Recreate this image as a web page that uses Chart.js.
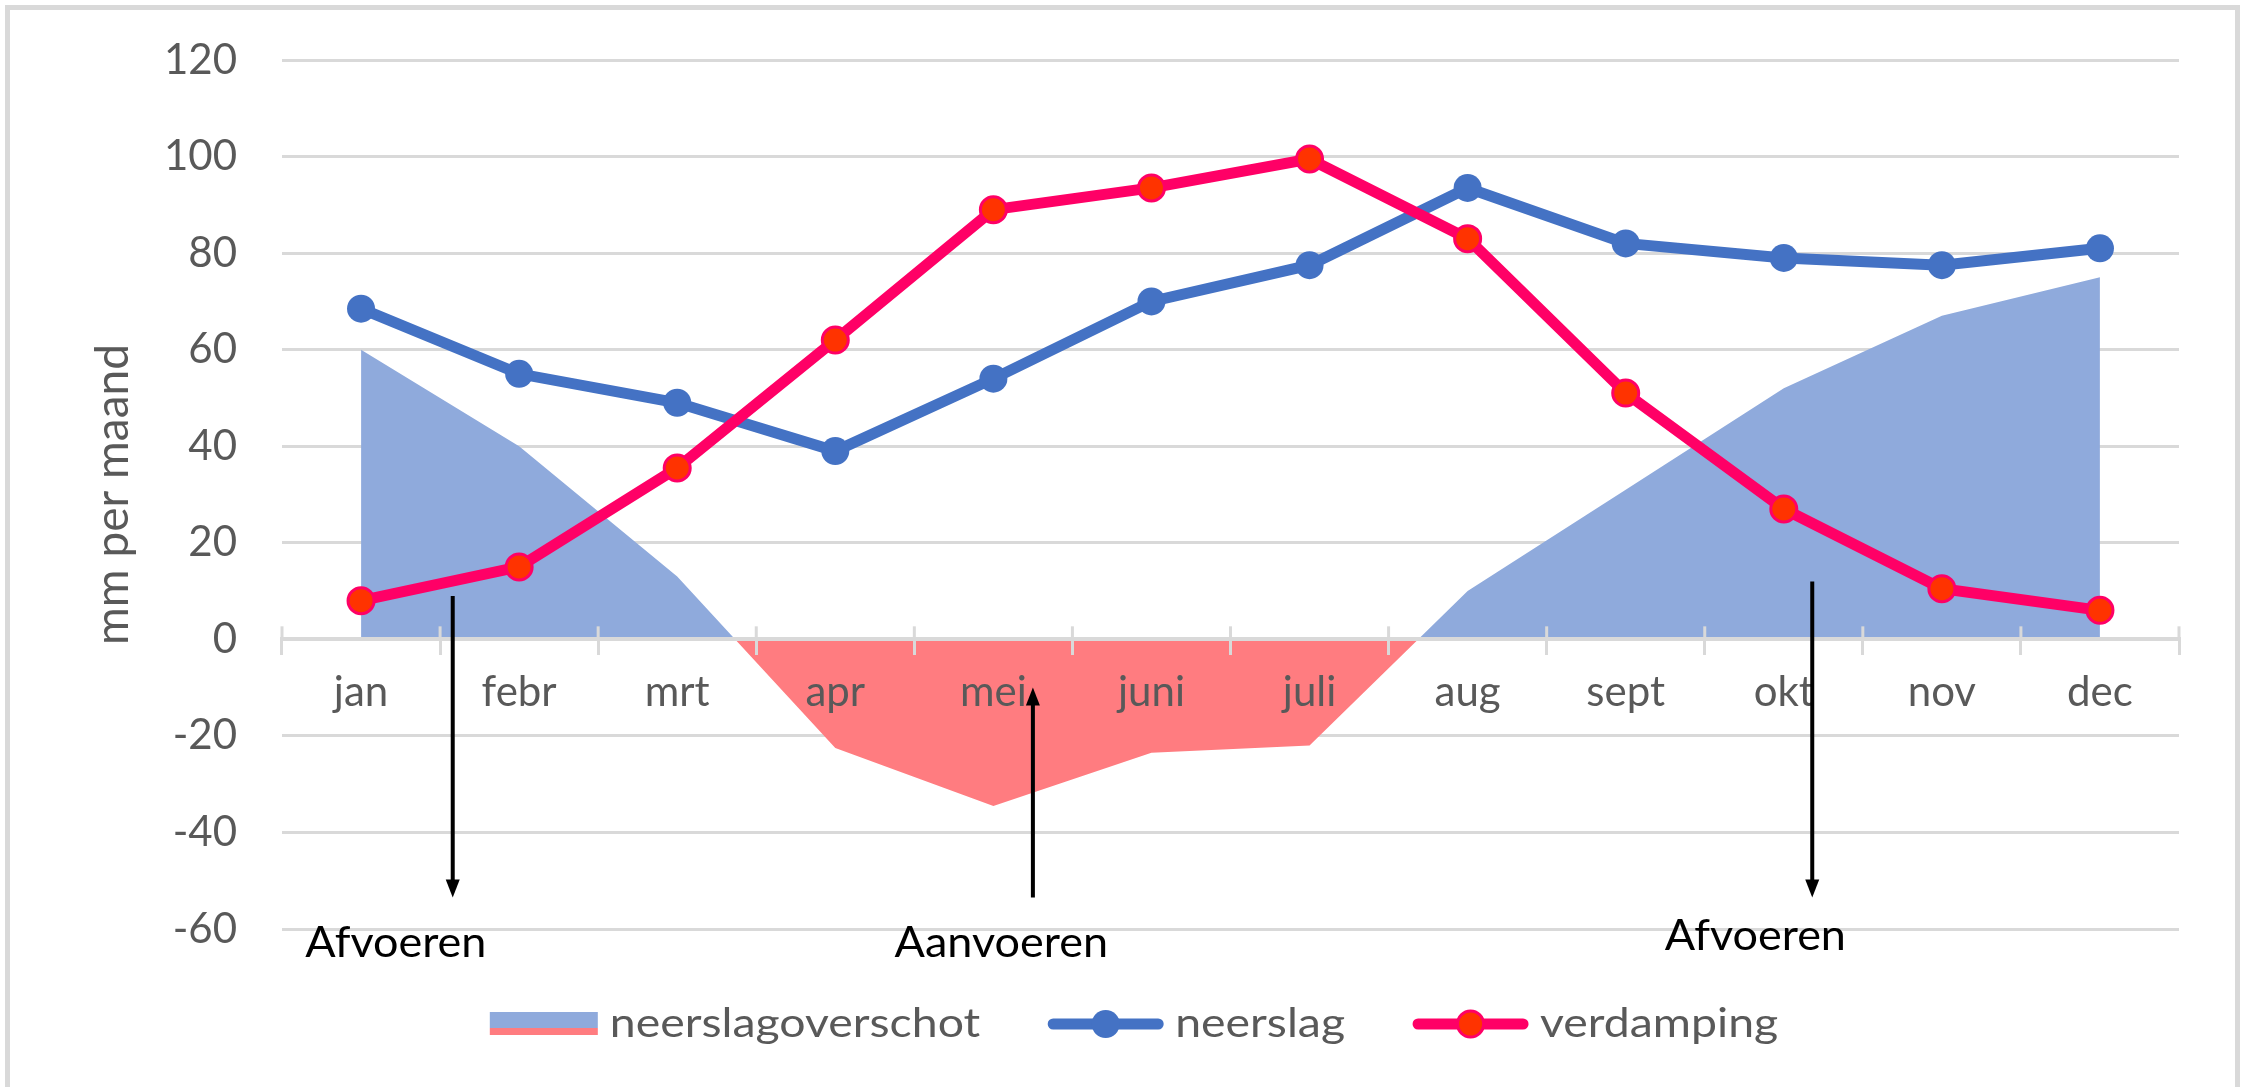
<!DOCTYPE html>
<html lang="nl">
<head>
<meta charset="UTF-8">
<title>Neerslag en verdamping per maand</title>
<script src="https://cdn.jsdelivr.net/npm/chart.js"></script>
<style>
  html, body { margin: 0; padding: 0; background: #fff; }
  #wrap { position: relative; width: 2248px; height: 1087px; overflow: hidden; }
  #frame { position: absolute; left: 5px; top: 5px; width: 2225px; height: 1100px;
           border: 5px solid #d9d9d9; border-bottom: none; }
  #chart { position: absolute; left: 0; top: 0; }
</style>
</head>
<body>
<div id="wrap">
  <div id="frame"></div>
  <canvas id="chart" width="2248" height="1087"></canvas>
</div>

<script>
// months on the x axis
const months = ["jan", "febr", "mrt", "apr", "mei", "juni", "juli", "aug", "sept", "okt", "nov", "dec"];

// mm per maand
const neerslag = [68.5, 55, 49, 39, 54, 70, 77.5, 93.5, 82, 79, 77.5, 81];
const verdamping = [8, 15, 35.5, 62, 89, 93.5, 99.5, 83, 51, 27, 10.5, 6];
const neerslagoverschot = [60, 40, 13, -22.5, -34.5, -23.5, -22, 10, 31, 52, 67, 75];

// y axis
const yMin = -60;
const yMax = 120;
const yStep = 20;

// arrows + notes underneath the chart (x = month index, y = mm)
const arrowX = [0.58, 4.25, 9.18];
const arrowFrom = [9, -53.5, 12];
const arrowTo = [-53.5, -10, -53.5];
const noteText = ["Afvoeren", "Aanvoeren", "Afvoeren"];
const noteX = [0.22, 4.05, 8.82];
const noteY = [-63, -63, -61.5];

const FONT = "Lato";
const GREY_TEXT = "#595959";
const GRID = "#d9d9d9";
const BLUE_AREA = "#8faadc";
const RED_AREA = "#ff7c80";
const BLUE = "#4472c4";
const PINK = "#ff0066";
const ORANGE = "#ff3300";

// the picture is a bit stretched sideways, so text drawn here is widened too
function wideText(ctx, text, x, y, stretch, align) {
    const w = ctx.measureText(text).width * stretch;
    let left = x;
    if (align === "center") left = x - w / 2;
    ctx.save();
    ctx.translate(left, y);
    ctx.scale(stretch, 1);
    ctx.textAlign = "left";
    ctx.fillText(text, 0, 0);
    ctx.restore();
    return w;
}

// arrows and the three notes, plus the short tick stubs above the zero axis
const notesPlugin = {
    id: "notes",
    afterDraw(chart) {
        const ctx = chart.ctx;
        const xs = chart.scales.x, ys = chart.scales.y;
        ctx.save();

        const y0 = ys.getPixelForValue(0);
        ctx.strokeStyle = GRID;
        ctx.lineWidth = 3;
        for (let i = 0; i <= months.length; i++) {
            const x = xs.getPixelForValue(i - 0.5);
            ctx.beginPath();
            ctx.moveTo(x, y0 - 13);
            ctx.lineTo(x, y0);
            ctx.stroke();
        }

        ctx.strokeStyle = "#000";
        ctx.fillStyle = "#000";
        ctx.lineWidth = 4;
        arrowX.forEach((ax, i) => {
            const x = xs.getPixelForValue(ax);
            const y1 = ys.getPixelForValue(arrowFrom[i]);
            const y2 = ys.getPixelForValue(arrowTo[i]);
            const dir = y2 > y1 ? 1 : -1;
            ctx.beginPath();
            ctx.moveTo(x, y1);
            ctx.lineTo(x, y2 - dir * 14);
            ctx.stroke();
            ctx.beginPath();
            ctx.moveTo(x, y2);
            ctx.lineTo(x - 7, y2 - dir * 18);
            ctx.lineTo(x + 7, y2 - dir * 18);
            ctx.closePath();
            ctx.fill();
        });
        ctx.font = "42px " + FONT;
        ctx.textBaseline = "middle";
        noteText.forEach((t, i) => {
            wideText(ctx, t, xs.getPixelForValue(noteX[i]), ys.getPixelForValue(noteY[i]), 1.07, "center");
        });
        ctx.restore();
    }
};

// legend like the excel one (area swatch + line with marker)
const legendPlugin = {
    id: "bottomLegend",
    afterDraw(chart) {
        const ctx = chart.ctx;
        const ds = chart.data.datasets;
        const cy = 1024;
        const gap = 12, itemGap = 68, stretch = 1.16;
        ctx.save();
        ctx.font = "40px " + FONT;
        ctx.textBaseline = "middle";
        const symW = ds.map(d => d.pointRadius > 0 ? 115 : 108);
        const textW = ds.map(d => ctx.measureText(d.label).width * stretch);
        let total = 0;
        ds.forEach((d, i) => { total += symW[i] + gap + textW[i] + (i ? itemGap : 0); });
        let x = chart.width / 2 + 10 - total / 2;
        ds.forEach((d, i) => {
            if (d.pointRadius > 0) {
                ctx.strokeStyle = d.borderColor;
                ctx.lineWidth = d.borderWidth;
                ctx.lineCap = "round";
                ctx.beginPath();
                ctx.moveTo(x + 5, cy);
                ctx.lineTo(x + symW[i] - 5, cy);
                ctx.stroke();
                ctx.beginPath();
                ctx.arc(x + symW[i] / 2, cy, d.pointRadius, 0, Math.PI * 2);
                ctx.fillStyle = d.pointBackgroundColor;
                ctx.fill();
                if (d.pointBorderWidth) {
                    ctx.lineWidth = d.pointBorderWidth;
                    ctx.strokeStyle = d.pointBorderColor;
                    ctx.stroke();
                }
            } else {
                ctx.fillStyle = d.fill.above;
                ctx.fillRect(x, cy - 12, symW[i], 16);
                ctx.fillStyle = d.fill.below;
                ctx.fillRect(x, cy + 4, symW[i], 7);
            }
            x += symW[i] + gap;
            ctx.fillStyle = GREY_TEXT;
            wideText(ctx, d.label, x, cy, stretch, "left");
            x += textW[i] + itemGap;
        });
        ctx.restore();
    }
};

new Chart(document.getElementById("chart"), {
    type: "line",
    data: {
        labels: months,
        datasets: [
            {
                label: "neerslagoverschot",
                data: neerslagoverschot,
                order: 3,
                fill: { target: "origin", above: BLUE_AREA, below: RED_AREA },
                backgroundColor: BLUE_AREA,
                borderColor: "rgba(0,0,0,0)",
                borderWidth: 0,
                pointRadius: 0,
                tension: 0
            },
            {
                label: "neerslag",
                data: neerslag,
                order: 2,
                borderColor: BLUE,
                borderWidth: 11,
                pointRadius: 14,
                pointBackgroundColor: BLUE,
                pointBorderColor: BLUE,
                pointBorderWidth: 0,
                fill: false,
                tension: 0
            },
            {
                label: "verdamping",
                data: verdamping,
                order: 1,
                borderColor: PINK,
                borderWidth: 11,
                pointRadius: 13,
                pointBackgroundColor: ORANGE,
                pointBorderColor: PINK,
                pointBorderWidth: 3,
                fill: false,
                tension: 0
            }
        ]
    },
    options: {
        responsive: false,
        animation: false,
        layout: { padding: { top: 60, right: 69, bottom: 158, left: 0 } },
        plugins: {
            legend: { display: false },
            tooltip: { enabled: false }
        },
        scales: {
            x: {
                position: { y: 0 },
                offset: true,
                grid: { offset: true, drawOnChartArea: false, tickLength: 14, color: GRID, lineWidth: 3, z: 1 },
                border: { color: GRID, width: 4, z: 1 },
                ticks: { color: GREY_TEXT, font: { family: FONT, size: 42 }, padding: 14, maxRotation: 0, autoSkip: false, z: 1 }
            },
            y: {
                min: yMin,
                max: yMax,
                // the gap between labels and plot comes from an invisible tick mark,
                // a big ticks.padding would also push the plot area down
                ticks: { stepSize: yStep, color: GREY_TEXT, font: { family: FONT, size: 42 }, padding: 1 },
                grid: { color: GRID, lineWidth: 3, drawTicks: true, tickLength: 44, tickColor: "rgba(0,0,0,0)" },
                border: { display: false },
                title: {
                    display: true,
                    text: "mm per maand",
                    color: GREY_TEXT,
                    font: { family: FONT, size: 46 },
                    padding: { top: 86, bottom: 0 }
                },
                afterFit(scale) { scale.width = 282; }
            }
        }
    },
    plugins: [notesPlugin, legendPlugin]
});
</script>
</body>
</html>
